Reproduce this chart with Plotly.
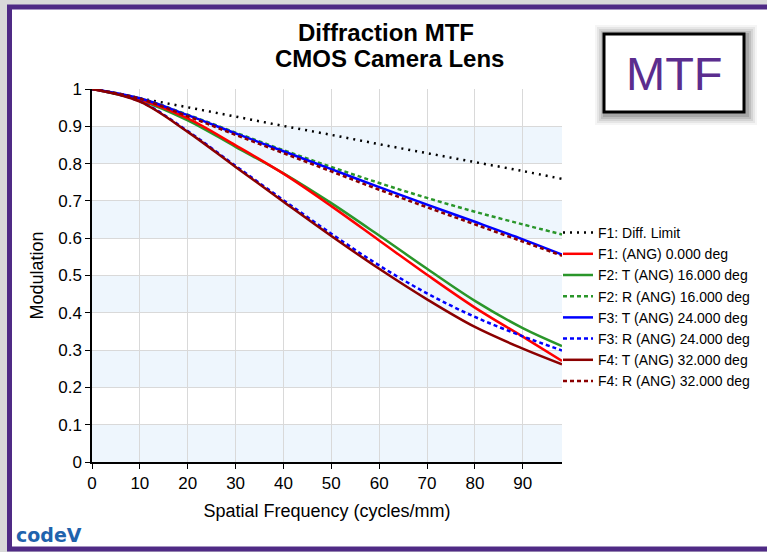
import plotly.graph_objects as go

# ---------------- data ----------------
freq = [0, 10, 20, 30, 40, 50, 60, 70, 80, 90, 98.2]

diff_limit = [1.0, 0.975, 0.951, 0.926, 0.901, 0.877, 0.852, 0.828, 0.804, 0.780, 0.759]
f1_ang0    = [1.0, 0.972, 0.921, 0.849, 0.773, 0.686, 0.594, 0.502, 0.414, 0.336, 0.271]
f2_t16     = [1.0, 0.970, 0.916, 0.845, 0.774, 0.694, 0.607, 0.518, 0.432, 0.359, 0.311]
f2_r16     = [1.0, 0.975, 0.931, 0.883, 0.836, 0.791, 0.748, 0.708, 0.671, 0.637, 0.610]
f3_t24     = [1.0, 0.975, 0.930, 0.881, 0.833, 0.785, 0.737, 0.690, 0.644, 0.597, 0.556]
f3_r24     = [1.0, 0.967, 0.887, 0.794, 0.702, 0.612, 0.527, 0.452, 0.389, 0.337, 0.299]
f4_t32     = [1.0, 0.966, 0.885, 0.791, 0.698, 0.606, 0.518, 0.436, 0.362, 0.304, 0.262]
f4_r32     = [1.0, 0.974, 0.927, 0.877, 0.828, 0.779, 0.730, 0.683, 0.637, 0.591, 0.553]

series_names = [
    "F1: Diff. Limit",
    "F1: (ANG) 0.000 deg",
    "F2: T (ANG) 16.000 deg",
    "F2: R (ANG) 16.000 deg",
    "F3: T (ANG) 24.000 deg",
    "F3: R (ANG) 24.000 deg",
    "F4: T (ANG) 32.000 deg",
    "F4: R (ANG) 32.000 deg",
]
series_values = [diff_limit, f1_ang0, f2_t16, f2_r16, f3_t24, f3_r24, f4_t32, f4_r32]
# draw order (red F1 sits on top of the green F2 T line in the reference)
draw_order = [0, 2, 1, 3, 4, 5, 6, 7]

x_ticks = [0, 10, 20, 30, 40, 50, 60, 70, 80, 90]
y_ticks = [0, 0.1, 0.2, 0.3, 0.4, 0.5, 0.6, 0.7, 0.8, 0.9, 1]
band_ranges = [(0, 0.1), (0.2, 0.3), (0.4, 0.5), (0.6, 0.7), (0.8, 0.9)]

# ---------------- styles ----------------
styles = [
    dict(color="#000000", dash="2px,5px", width=2.5),
    dict(color="#ff0000", dash="solid", width=2.5),
    dict(color="#2a962a", dash="solid", width=2.5),
    dict(color="#2a962a", dash="4px,3px", width=2.5),
    dict(color="#0000ff", dash="solid", width=2.5),
    dict(color="#0000ff", dash="4px,3px", width=2.5),
    dict(color="#8b0000", dash="solid", width=2.5),
    dict(color="#8b0000", dash="4px,3px", width=2.5),
]

FONT = "Liberation Sans, Arial, sans-serif"

fig = go.Figure()
for i in draw_order:
    st = styles[i]
    fig.add_trace(go.Scatter(
        x=freq, y=series_values[i], mode="lines", name=series_names[i],
        legendrank=i + 1,
        line=dict(color=st["color"], dash=st["dash"], width=st["width"], shape="spline", smoothing=1.0),
    ))

# pixel geometry of plot area
L, R, T, B = 92, 562, 89, 462
W, H = R - L, B - T


def px(x):
    return (x - L) / W


def py(y):
    return (B - y) / H


shapes = []
# outer purple frame with white inside
shapes.append(dict(type="rect", xref="paper", yref="paper", layer="below",
                   x0=px(9.5), x1=px(800), y0=py(549), y1=py(7),
                   line=dict(color="#4f2a85", width=5), fillcolor="white"))
# bands
for lo, hi in band_ranges:
    shapes.append(dict(type="rect", xref="x", yref="y", layer="below",
                       x0=0, x1=freq[-1], y0=lo, y1=hi,
                       line=dict(width=0), fillcolor="#eef6fd"))
# MTF box shadow
for i, op in enumerate([0.04, 0.06, 0.08, 0.10, 0.12]):
    g = 10 - 2 * i
    shapes.append(dict(type="rect", xref="paper", yref="paper", layer="above",
                       x0=px(603 - g + 2), x1=px(745 + g + 2), y0=py(113 + g + 2), y1=py(33 - g + 2),
                       line=dict(width=0), fillcolor=f"rgba(0,0,0,{op})"))
shapes.append(dict(type="rect", xref="paper", yref="paper", layer="above",
                   x0=px(604), x1=px(744), y0=py(112), y1=py(34),
                   line=dict(color="black", width=3), fillcolor="white"))

annotations = [
    dict(text="<b>Diffraction MTF</b>", xref="paper", yref="paper", x=px(386), y=py(33),
         showarrow=False, font=dict(family=FONT, size=24, color="black"), xanchor="center", yanchor="middle"),
    dict(text="<b>CMOS Camera Lens</b>", xref="paper", yref="paper", x=px(389), y=py(59),
         showarrow=False, font=dict(family=FONT, size=24, color="black"), xanchor="center", yanchor="middle"),
    dict(text="MTF", xref="paper", yref="paper", x=px(674), y=py(74),
         showarrow=False, font=dict(family=FONT, size=47, color="#5b2d8e"), xanchor="center", yanchor="middle"),
    dict(text="<b>codeV</b>", xref="paper", yref="paper", x=px(14), y=py(535),
         showarrow=False, font=dict(family="DejaVu Sans", size=19, color="#1f63ad"), xanchor="left", yanchor="middle"),
]

fig.update_layout(
    width=767, height=552,
    margin=dict(l=L, r=767 - R, t=T, b=552 - B, pad=0, autoexpand=False),
    paper_bgcolor="#d9d9d9",
    plot_bgcolor="rgba(0,0,0,0)",
    font=dict(family=FONT, color="black"),
    showlegend=True,
    legend=dict(x=px(558), y=py(217), xanchor="left", yanchor="top",
                bgcolor="rgba(0,0,0,0)", font=dict(family=FONT, size=14, color="black"),
                itemwidth=30, tracegroupgap=0, traceorder="normal"),
    shapes=shapes,
    annotations=annotations,
)

fig.update_xaxes(
    range=[0, freq[-1]], tickvals=x_ticks, ticktext=[str(v) for v in x_ticks],
    showgrid=True, gridcolor="#d9d9d9", gridwidth=1, zeroline=False,
    showline=True, linecolor="black", linewidth=1.5,
    ticks="outside", ticklen=5, tickcolor="black",
    tickfont=dict(family=FONT, size=17),
    title=dict(text="Spatial Frequency (cycles/mm)", font=dict(family=FONT, size=18), standoff=12),
)
fig.update_yaxes(
    range=[0, 1], tickvals=y_ticks, ticktext=[("%g" % v) for v in y_ticks],
    showgrid=True, gridcolor="#d9d9d9", gridwidth=1, zeroline=False,
    showline=True, linecolor="black", linewidth=1.5,
    ticks="outside", ticklen=5, tickcolor="black",
    tickfont=dict(family=FONT, size=17),
    title=dict(text="Modulation", font=dict(family=FONT, size=18), standoff=10),
)

fig.write_html("out.html")
